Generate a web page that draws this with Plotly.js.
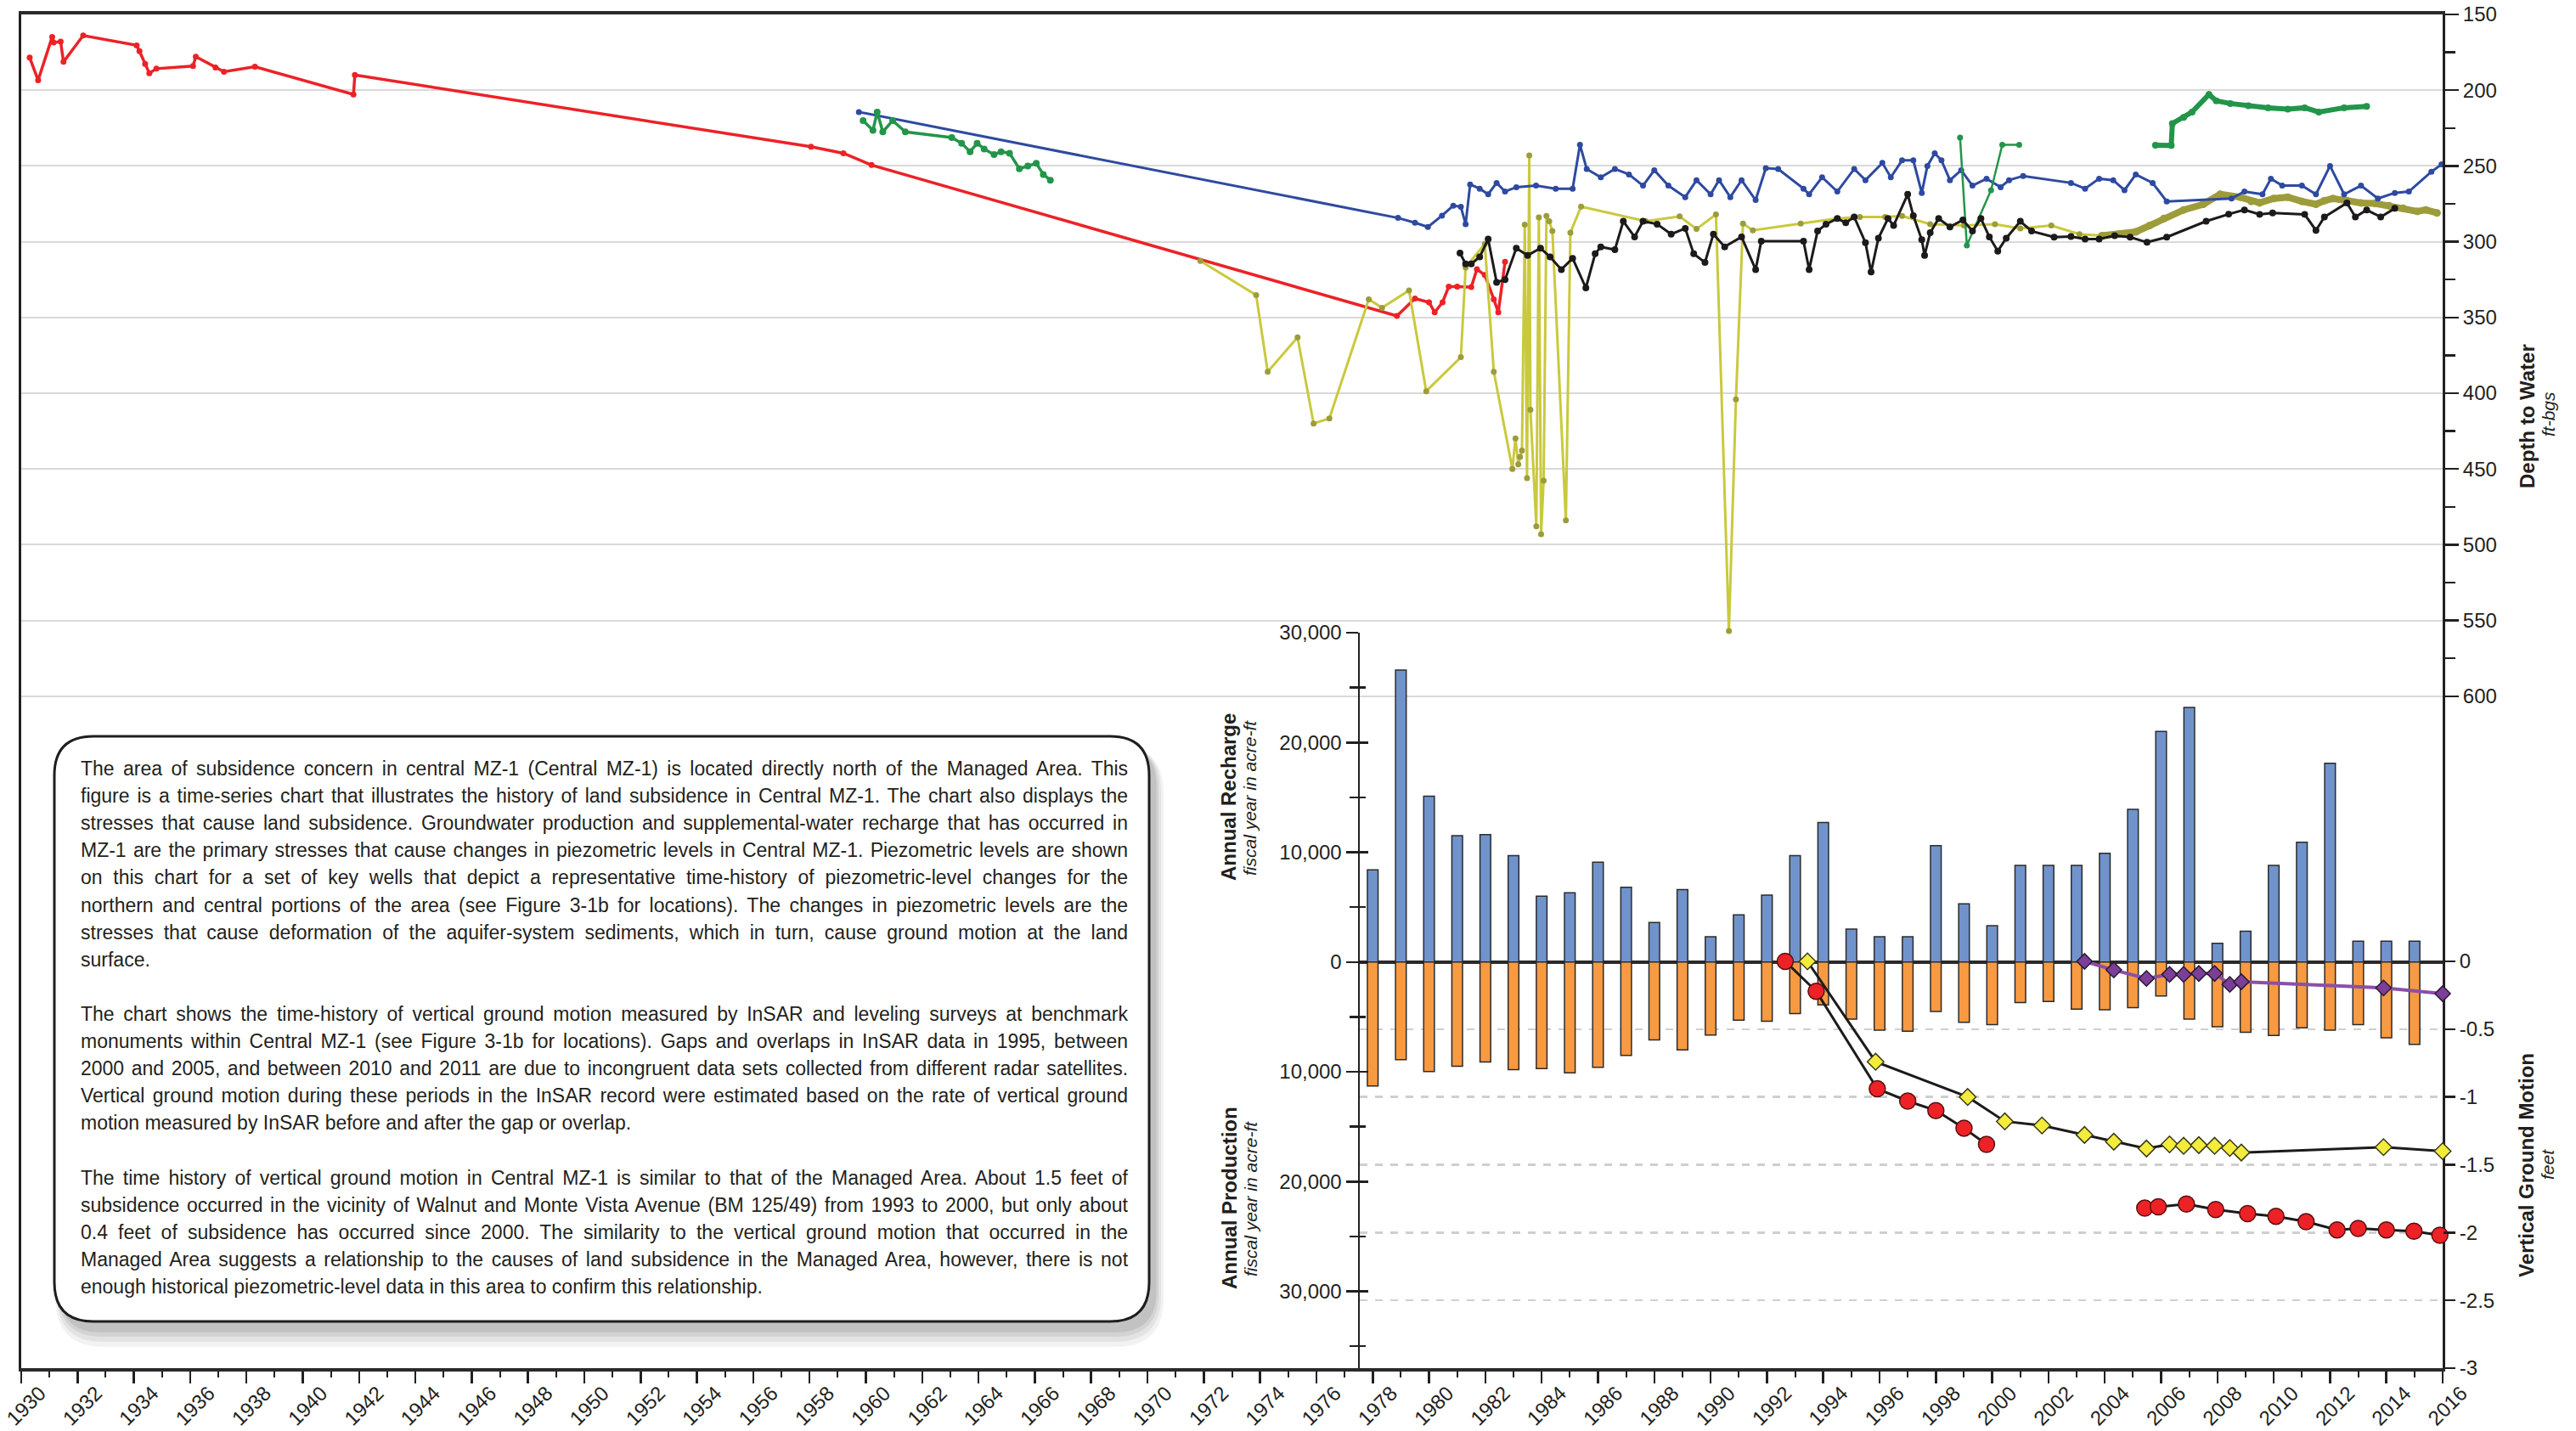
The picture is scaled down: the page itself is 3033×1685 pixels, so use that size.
<!DOCTYPE html>
<html>
<head>
<meta charset="utf-8">
<script src="https://cdn.plot.ly/plotly-3.0.1.min.js"></script>
<style>
html,body{margin:0;padding:0;background:#fff;}
#chart{width:3033px;height:1685px;}
</style>
</head>
<body>
<div id="chart"></div>
<script>
// ---------------- DATA ----------------
// Depth to water (ft-bgs) by well, [year, depth]
const redWell = [[1930.3,178.5],[1930.6,193.4],[1931.1,164.8],[1931.15,168.5],[1931.4,168],[1931.5,181.3],[1932.2,163.9],[1934.1,170.4],[1934.2,174.2],[1934.4,182.6],[1934.55,188.8],[1934.8,185.8],[1936.1,184.1],[1936.2,177.9],[1936.9,185],[1937.2,187.8],[1938.3,184.5],[1941.8,202.8],[1941.85,190],[1958.05,237.3],[1959.2,241.6],[1960.2,249.4],[1978.86,349],[1979.5,337.5],[1980.0,340],[1980.2,346.6],[1980.48,340],[1980.7,329.6],[1981.0,329.6],[1981.5,330],[1981.7,318.2],[1981.98,322],[1982.3,338],[1982.46,346.6],[1982.7,313.3]];

const blueWell = [[1959.75,214.4],[1978.9,284.3],[1979.5,287.5],[1979.96,290.3],[1980.46,282.8],[1980.86,276.2],[1981.13,277],[1981.3,288.4],[1981.46,262.2],[1981.8,265],[1982.1,268.7],[1982.4,261.2],[1982.7,266.9],[1983.1,264],[1983.8,263],[1984.5,265],[1985.1,265],[1985.36,236],[1985.6,252],[1986.1,257.5],[1986.6,252],[1987.1,255.6],[1987.6,263],[1988.0,252.8],[1988.5,263],[1989.1,270.6],[1989.5,259.4],[1990.0,268.7],[1990.3,259.4],[1990.7,270.6],[1991.1,259.4],[1991.6,272.5],[1991.96,251.5],[1992.4,252],[1993.3,265],[1993.5,268.7],[1993.96,257.5],[1994.5,266.9],[1995.1,252],[1995.5,259.4],[1996.1,248],[1996.4,257.5],[1996.8,246.3],[1997.2,246.3],[1997.5,267.8],[1997.7,250],[1997.96,241.6],[1998.2,246.3],[1998.5,259.4],[1998.9,252.8],[1999.3,263],[1999.8,258.4],[2000.3,264],[2000.6,259.4],[2001.1,256.6],[2002.8,261.2],[2003.3,265],[2003.8,258.4],[2004.3,259.4],[2004.7,266],[2005.1,255.6],[2005.7,261.2],[2006.2,273.4],[2008.5,271.5],[2008.96,266.9],[2009.6,268.7],[2009.9,258.4],[2010.3,263],[2011.0,263],[2011.5,268.7],[2012.0,250],[2012.5,268.7],[2013.1,263],[2013.7,271.5],[2014.3,267.8],[2014.8,266.9],[2015.6,253.8],[2015.96,249]];

const blackWell = [[1981.1,307.5],[1981.3,314.6],[1981.5,314.6],[1981.8,310],[1982.1,298.3],[1982.4,326.8],[1982.7,325],[1983.1,304.3],[1983.5,309],[1983.96,304.3],[1984.3,310],[1984.7,318.4],[1985.1,311],[1985.57,330.5],[1985.9,308],[1986.1,303.4],[1986.6,305.3],[1986.9,286.5],[1987.3,296.8],[1987.6,286.5],[1988.1,288.4],[1988.6,295],[1989.1,291.2],[1989.4,308],[1989.8,313.7],[1990.1,295],[1990.5,303.4],[1991.1,296.8],[1991.6,318.4],[1991.8,299.6],[1993.3,299.6],[1993.5,318.4],[1993.8,293],[1994.1,288.4],[1994.5,284.7],[1994.8,287.5],[1995.1,283.7],[1995.5,300.6],[1995.7,320],[1995.96,297.7],[1996.3,284.7],[1996.5,289.3],[1997.0,268.7],[1997.2,282.8],[1997.5,298.7],[1997.6,309],[1997.8,294],[1998.1,284.7],[1998.5,290.3],[1998.96,285.6],[1999.3,293],[1999.6,284.7],[1999.9,296.8],[2000.2,306.2],[2000.5,297.7],[2001.0,286.5],[2001.4,293],[2002.2,297],[2002.8,296.6],[2003.3,298.3],[2003.8,298.3],[2004.35,296],[2004.9,297],[2005.5,300.4],[2006.2,297],[2007.6,286.5],[2008.4,281.8],[2008.96,279],[2009.5,282],[2009.96,281],[2011.1,282],[2011.5,292.5],[2011.8,283.7],[2012.6,274.4],[2012.9,283.7],[2013.3,279],[2013.8,283.7],[2014.3,278]];

const greenWellEarly = [[1959.9,220],[1960.25,226.5],[1960.4,214.4],[1960.6,227.5],[1960.95,220],[1961.4,227.5],[1963.05,231.3],[1963.4,235],[1963.7,240.6],[1963.95,235],[1964.2,238.8],[1964.55,242.5],[1964.8,240.6],[1965.1,241.6],[1965.45,251.9],[1965.75,250],[1966.05,248.3],[1966.3,255.6],[1966.55,259.4]];
const greenWellMid = [[1998.86,231.3],[1999.1,302.5],[1999.96,266],[2000.36,236],[2000.96,236]];
const greenWellLate = [[2005.8,236.3],[2006.36,236.5],[2006.4,222],[2006.8,218],[2007.1,214.4],[2007.7,202.8],[2007.96,207],[2008.46,208.8],[2009.1,210.3],[2009.8,211.6],[2010.5,212.5],[2011.1,211.6],[2011.6,214.4],[2012.5,211.6],[2013.3,210.7]];

const yellowWell = [[1971.88,312.7],[1973.86,335.2],[1974.27,385.8],[1975.33,363.1],[1975.9,420],[1976.46,416.7],[1977.86,338],[1978.33,343.6],[1979.29,332.2],[1979.9,398.7],[1981.13,376.2],[1981.3,317],[1981.98,301.5],[1982.3,385.8],[1982.96,450],[1983.07,429.8],[1983.17,447],[1983.23,442],[1983.3,437.8],[1983.4,288.8],[1983.48,456],[1983.56,243],[1983.6,411],[1983.81,487.8],[1983.9,284],[1983.98,493],[1984.07,457.7],[1984.17,283],[1984.27,286.5],[1984.38,293],[1984.86,484],[1985.02,294],[1985.4,276.8],[1987.7,286.5],[1988.9,283.3],[1989.5,291.6],[1990.19,282],[1990.65,557],[1990.9,404],[1991.15,288],[1991.5,292.5],[1993.2,288],[1994.5,284.7],[1995.3,283.7],[1996.2,283.7],[1996.8,283],[1997.8,288.4],[1999.0,289.3],[2000.1,288.4],[2001.0,291.2],[2002.1,289.3],[2003.1,295],[2003.9,296]];
const oliveWell = [[2003.9,296],[2004.5,295],[2005.1,293.5],[2005.6,289.3],[2006.1,284.7],[2006.8,279],[2007.5,275.3],[2008.1,268.7],[2008.8,270.6],[2009.2,273.4],[2009.5,274.4],[2010.0,271.5],[2010.5,270.6],[2011.0,273.4],[2011.5,275.3],[2011.8,272.9],[2012.1,271.5],[2012.6,272.9],[2013.1,274.4],[2013.6,274.7],[2014.1,276.2],[2014.6,278],[2015.1,280],[2015.4,279],[2015.8,281]];

// Annual recharge / production (acre-ft, fiscal year)
const barYears = [1978,1979,1980,1981,1982,1983,1984,1985,1986,1987,1988,1989,1990,1991,1992,1993,1994,1995,1996,1997,1998,1999,2000,2001,2002,2003,2004,2005,2006,2007,2008,2009,2010,2011,2012,2013,2014,2015];
const recharge = [8400,26600,15100,11500,11600,9700,6000,6300,9100,6800,3600,6600,2300,4300,6100,9700,12700,3000,2300,2300,10600,5300,3300,8800,8800,8800,9900,13900,21000,23200,1700,2800,8800,10900,18100,1900,1900,1900];
const production = [11300,8900,9970,9500,9100,9800,9700,10100,9600,8500,7100,8000,6650,5300,5400,4700,3900,5200,6200,6300,4500,5500,5700,3700,3600,4300,4350,4150,3100,5200,5900,6400,6700,6000,6200,5700,6900,7500];

// Vertical ground motion (feet), [year, ft]
const levelingEarly = [[1992.65,0],[1993.75,-0.22],[1995.92,-0.94],[1997.0,-1.03],[1998.0,-1.10],[1999.0,-1.23],[1999.8,-1.35]];
const levelingLate = [[2005.42,-1.82],[2005.9,-1.81],[2006.9,-1.79],[2007.94,-1.83],[2009.07,-1.86],[2010.08,-1.88],[2011.15,-1.92],[2012.25,-1.98],[2013.0,-1.97],[2014.0,-1.98],[2014.98,-1.99],[2015.9,-2.02]];
const insarYellow = [[1993.44,0],[1995.86,-0.74],[1999.13,-1.0],[2000.45,-1.18],[2001.77,-1.21],[2003.28,-1.28],[2004.32,-1.33],[2005.48,-1.38],[2006.3,-1.35],[2006.8,-1.36],[2007.34,-1.355],[2007.9,-1.36],[2008.44,-1.376],[2008.85,-1.41],[2013.9,-1.37],[2016.0,-1.40]];
const insarPurple = [[2003.28,0],[2004.32,-0.063],[2005.48,-0.126],[2006.3,-0.096],[2006.8,-0.096],[2007.34,-0.089],[2007.9,-0.089],[2008.44,-0.17],[2008.85,-0.15],[2013.9,-0.196],[2016.0,-0.238]];

// Tick labels
const xTickYears = [1930,1932,1934,1936,1938,1940,1942,1944,1946,1948,1950,1952,1954,1956,1958,1960,1962,1964,1966,1968,1970,1972,1974,1976,1978,1980,1982,1984,1986,1988,1990,1992,1994,1996,1998,2000,2002,2004,2006,2008,2010,2012,2014,2016];
const xMinorYears = [1931,1933,1935,1937,1939,1941,1943,1945,1947,1949,1951,1953,1955,1957,1959,1961,1963,1965,1967,1969,1971,1973,1975,1977,1979,1981,1983,1985,1987,1989,1991,1993,1995,1997,1999,2001,2003,2005,2007,2009,2011,2013,2015];
const depthTicks = [150,200,250,300,350,400,450,500,550,600];
const depthMinor = [175,225,275,325,375,425,475,525,575];
const acreFtTicks = [30000,20000,10000,0,-10000,-20000,-30000];
const acreFtLabels = ['30,000','20,000','10,000','0','10,000','20,000','30,000'];
const acreFtMinor = [25000,15000,5000,-5000,-15000,-25000,-35000];
const vgmTicks = [0,-0.5,-1,-1.5,-2,-2.5,-3];
const vgmLabels = ['0','-0.5','-1','-1.5','-2','-2.5','-3'];

const boxLines = [
 'The area of subsidence concern in central MZ-1 (Central MZ-1) is located directly north of the Managed Area. This',
 'figure is a time-series chart that illustrates the history of land subsidence in Central MZ-1. The chart also displays the',
 'stresses that cause land subsidence. Groundwater production and supplemental-water recharge that has occurred in',
 'MZ-1 are the primary stresses that cause changes in piezometric levels in Central MZ-1. Piezometric levels are shown',
 'on this chart for a set of key wells that depict a representative time-history of piezometric-level changes for the',
 'northern and central portions of the area (see Figure 3-1b for locations). The changes in piezometric levels are the',
 'stresses that cause deformation of the aquifer-system sediments, which in turn, cause ground motion at the land',
 'surface.',
 '',
 'The chart shows the time-history of vertical ground motion measured by InSAR and leveling surveys at benchmark',
 'monuments within Central MZ-1 (see Figure 3-1b for locations). Gaps and overlaps in InSAR data in 1995, between',
 '2000 and 2005, and between 2010 and 2011 are due to incongruent data sets collected from different radar satellites.',
 'Vertical ground motion during these periods in the InSAR record were estimated based on the rate of vertical ground',
 'motion measured by InSAR before and after the gap or overlap.',
 '',
 'The time history of vertical ground motion in Central MZ-1 is similar to that of the Managed Area. About 1.5 feet of',
 'subsidence occurred in the vicinity of Walnut and Monte Vista Avenue (BM 125/49) from 1993 to 2000, but only about',
 '0.4 feet of subsidence has occurred since 2000. The similarity to the vertical ground motion that occurred in the',
 'Managed Area suggests a relationship to the causes of land subsidence in the Managed Area, however, there is not',
 'enough historical piezometric-level data in this area to confirm this relationship.'
];

// ---------------- LAYOUT HELPERS ----------------
const FONT = '"Liberation Sans", Arial, Helvetica, sans-serif';
const INK = '#231f20';
const PL = 25, PR = 2876, PT = 17, PB = 1611;
function fx(p){ return (p - PL) / (PR - PL); }
function fy(p){ return (PB - p) / (PB - PT); }
const xs = a => a.map(d => d[0]);
const ys = a => a.map(d => d[1]);

function roundRect(x0, y0, x1, y1, r){
  const rx = r / (PR - PL), ry = r / (PB - PT);
  const X0 = fx(x0), X1 = fx(x1), Y0 = fy(y0), Y1 = fy(y1);
  return `M ${X0+rx},${Y0} L ${X1-rx},${Y0} Q ${X1},${Y0} ${X1},${Y0-ry} L ${X1},${Y1+ry} Q ${X1},${Y1} ${X1-rx},${Y1} L ${X0+rx},${Y1} Q ${X0},${Y1} ${X0},${Y1+ry} L ${X0},${Y0-ry} Q ${X0},${Y0} ${X0+rx},${Y0} Z`;
}

// ---------------- TRACES ----------------
function depthTrace(arr, color, width, msize, mcolor){
  return {x: xs(arr), y: ys(arr), xaxis:'x', yaxis:'y', type:'scatter', mode:'lines+markers',
    line:{color:color, width:width}, marker:{color:mcolor||color, size:msize}, hoverinfo:'skip'};
}
const traces = [
  depthTrace(redWell, '#ec2227', 3.5, 7),
  depthTrace(yellowWell, '#c9c93e', 3, 7, '#9d9c3b'),
  depthTrace(oliveWell, '#9d9c3b', 8, 9),
  depthTrace(blueWell, '#2e4aa0', 3, 7),
  depthTrace(greenWellEarly, '#23954a', 3.5, 8),
  depthTrace(greenWellMid, '#23954a', 2.5, 7),
  depthTrace(greenWellLate, '#23954a', 6, 8),
  depthTrace(blackWell, '#1c1a1a', 3, 8),
  {x: barYears, y: recharge, xaxis:'x2', yaxis:'y2', type:'bar', width:0.38,
   marker:{color:'#7093cc', line:{color:'#2b2b2b', width:1.5}}, hoverinfo:'skip'},
  {x: barYears, y: production.map(v => -v), xaxis:'x2', yaxis:'y2', type:'bar', width:0.38,
   marker:{color:'#f79a42', line:{color:'#2b2b2b', width:1.5}}, hoverinfo:'skip'},
  {x: xs(insarPurple), y: ys(insarPurple), xaxis:'x2', yaxis:'y3', type:'scatter', mode:'lines+markers', cliponaxis:false,
   line:{color:'#8b4fa8', width:4}, marker:{symbol:'diamond', size:14, color:'#7b3f98', line:{color:'#2a1a33', width:1.5}}, hoverinfo:'skip'},
  {x: xs(levelingEarly), y: ys(levelingEarly), xaxis:'x2', yaxis:'y3', type:'scatter', mode:'lines+markers', cliponaxis:false,
   line:{color:'#1c1a1a', width:3}, marker:{symbol:'circle', size:19, color:'#ec2227', line:{color:'#5a1010', width:1.5}}, hoverinfo:'skip'},
  {x: xs(levelingLate), y: ys(levelingLate), xaxis:'x2', yaxis:'y3', type:'scatter', mode:'lines+markers', cliponaxis:false,
   line:{color:'#1c1a1a', width:3}, marker:{symbol:'circle', size:19, color:'#ec2227', line:{color:'#5a1010', width:1.5}}, hoverinfo:'skip'},
  {x: xs(insarYellow), y: ys(insarYellow), xaxis:'x2', yaxis:'y3', type:'scatter', mode:'lines+markers', cliponaxis:false,
   line:{color:'#1c1a1a', width:3}, marker:{symbol:'diamond', size:15, color:'#f3ec3b', line:{color:'#3a3a1a', width:1.5}}, hoverinfo:'skip'},
  // empty trace so the inner-tick companion axis of the acre-ft scale is drawn
  {x: [], y: [], xaxis:'x2', yaxis:'y4', type:'scatter', mode:'markers', hoverinfo:'skip', showlegend:false}
];

// ---------------- SHAPES ----------------
const BOX = {x0:64, y0:867, x1:1353, y1:1556, r:46};
const shapes = [];
[[22,0.05],[16,0.06],[10,0.07],[5,0.08]].forEach(([g,o]) => {
  shapes.push({type:'path', xref:'paper', yref:'paper', layer:'above',
    path: roundRect(BOX.x0+8-g*0.3, BOX.y0+10, BOX.x1+6+g*0.5, BOX.y1+8+g, BOX.r+g*0.5),
    fillcolor:`rgba(0,0,0,${o})`, line:{width:0}});
});
shapes.push({type:'path', xref:'paper', yref:'paper', layer:'above',
  path: roundRect(BOX.x0, BOX.y0, BOX.x1, BOX.y1, BOX.r),
  fillcolor:'#ffffff', line:{color:'#1e1e1e', width:3}});

// ---------------- ANNOTATIONS ----------------
const annotations = [];
const TEXT_LEFT = 93, TEXT_RIGHT = 1326, LINE0 = 905, LINE_STEP = 32.1;
const justifyIdx = [];
boxLines.forEach((t, i) => {
  if (!t) return;
  const next = boxLines[i+1];
  if (next) justifyIdx.push({idx: annotations.length, text: t});
  annotations.push({xref:'paper', yref:'paper', x: fx(TEXT_LEFT), y: fy(LINE0 + i*LINE_STEP),
    xanchor:'left', yanchor:'middle', align:'left', showarrow:false, text: t,
    font:{family:FONT, size:23, color:INK}});
});
function vTitle(px, pyy, text, size){
  annotations.push({xref:'paper', yref:'paper', x: fx(px), y: fy(pyy), xanchor:'center', yanchor:'middle',
    textangle:-90, showarrow:false, text:text, font:{family:FONT, size:size, color:INK}});
}
vTitle(2975, 490, '<b>Depth to Water</b>', 24);
vTitle(3001, 488, '<i>ft-bgs</i>', 21);
vTitle(2974, 1372, '<b>Vertical Ground Motion</b>', 24);
vTitle(2999, 1371, '<i>feet</i>', 21);
vTitle(1447, 939, '<b>Annual Recharge</b>', 24);
vTitle(1472, 939, '<i>fiscal year in acre-ft</i>', 21);
vTitle(1447, 1411, '<b>Annual Production</b>', 24);
vTitle(1472, 1411, '<i>fiscal year in acre-ft</i>', 21);

// ---------------- LAYOUT ----------------
const x2start = fx(1601);
const layout = {
  width:3033, height:1685,
  margin:{l:PL, r:3033-PR, t:PT, b:1685-PB, pad:0},
  paper_bgcolor:'#ffffff', plot_bgcolor:'rgba(0,0,0,0)',
  showlegend:false, barmode:'overlay', bargap:0,
  font:{family:FONT, size:24, color:INK},
  xaxis:{domain:[0,1], range:[1930,2016], anchor:'y', tickmode:'array', tickvals:xTickYears, ticktext:xTickYears.map(String),
    tickangle:-45, ticks:'outside', ticklen:14, tickwidth:2.5, tickcolor:INK, tickfont:{size:24, color:INK},
    ticklabelstandoff:-12, ticklabelshift:22,
    minor:{tickmode:'array', tickvals:xMinorYears, ticks:'outside', ticklen:7, tickwidth:2, tickcolor:INK, showgrid:false},
    showgrid:false, zeroline:false, showline:true, linewidth:4, linecolor:'#2a2a2a', mirror:true, automargin:false, fixedrange:true},
  yaxis:{domain:[0,1], anchor:'x', side:'right', range:[1043.5,150], tickmode:'array', tickvals:depthTicks, ticktext:depthTicks.map(String),
    ticks:'outside', ticklen:16, tickwidth:2.5, tickcolor:INK, tickfont:{size:24, color:INK},
    minor:{tickmode:'array', tickvals:depthMinor, ticks:'outside', ticklen:12, tickwidth:2.5, tickcolor:INK, showgrid:false},
    showgrid:true, gridcolor:'#d9d9d9', gridwidth:2, zeroline:false, showline:true, linewidth:3, linecolor:INK, mirror:true,
    automargin:false, fixedrange:true},
  xaxis2:{domain:[x2start,1], range:[1930 + x2start*86, 2016], anchor:'y2', visible:false, fixedrange:true},
  yaxis2:{domain:[0, fy(745)], anchor:'x2', side:'left', range:[-37000,30000], tickmode:'array', tickvals:acreFtTicks, ticktext:acreFtLabels,
    ticks:'outside', ticklen:14, tickwidth:2.5, tickcolor:INK, tickfont:{size:24, color:INK},
    minor:{tickmode:'array', tickvals:acreFtMinor, ticks:'outside', ticklen:10, tickwidth:2.5, tickcolor:INK, showgrid:false},
    showgrid:false, zeroline:true, zerolinecolor:'#2a2a2a', zerolinewidth:3.5, showline:true, linewidth:2.5, linecolor:INK,
    automargin:false, fixedrange:true},
  yaxis4:{overlaying:'y2', anchor:'x2', side:'left', range:[-37000,30000], tickmode:'array', tickvals:acreFtTicks, showticklabels:false,
    ticks:'inside', ticklen:10, tickwidth:2.5, tickcolor:INK,
    minor:{tickmode:'array', tickvals:acreFtMinor, ticks:'inside', ticklen:7, tickwidth:2.5, tickcolor:INK, showgrid:false},
    showgrid:false, zeroline:false, showline:false, automargin:false, fixedrange:true},
  yaxis3:{overlaying:'y2', anchor:'x2', side:'right', range:[-3, 2.424], tickmode:'array', tickvals:vgmTicks, ticktext:vgmLabels,
    ticks:'outside', ticklen:14, tickwidth:2.5, tickcolor:INK, tickfont:{size:24, color:INK},
    showgrid:true, gridcolor:'#cfcfcf', gridwidth:2.5, griddash:'dash', zeroline:false, showline:false,
    automargin:false, fixedrange:true},
  shapes: shapes,
  annotations: annotations
};

Plotly.newPlot('chart', traces, layout, {staticPlot:true, displayModeBar:false}).then(gd => {
  try {
    const target = TEXT_RIGHT - TEXT_LEFT;
    justifyIdx.forEach(j => {
      const g = gd.querySelector(`g.annotation[data-index="${j.idx}"] text.annotation-text`);
      if (!g) return;
      const len = g.getComputedTextLength();
      const spaces = (j.text.match(/ /g) || []).length;
      if (spaces > 0 && len > 0) {
        const ws = (target - len) / spaces;
        g.style.wordSpacing = ws.toFixed(2) + 'px';
      }
    });
  } catch(e) {}
});
</script>
</body>
</html>
